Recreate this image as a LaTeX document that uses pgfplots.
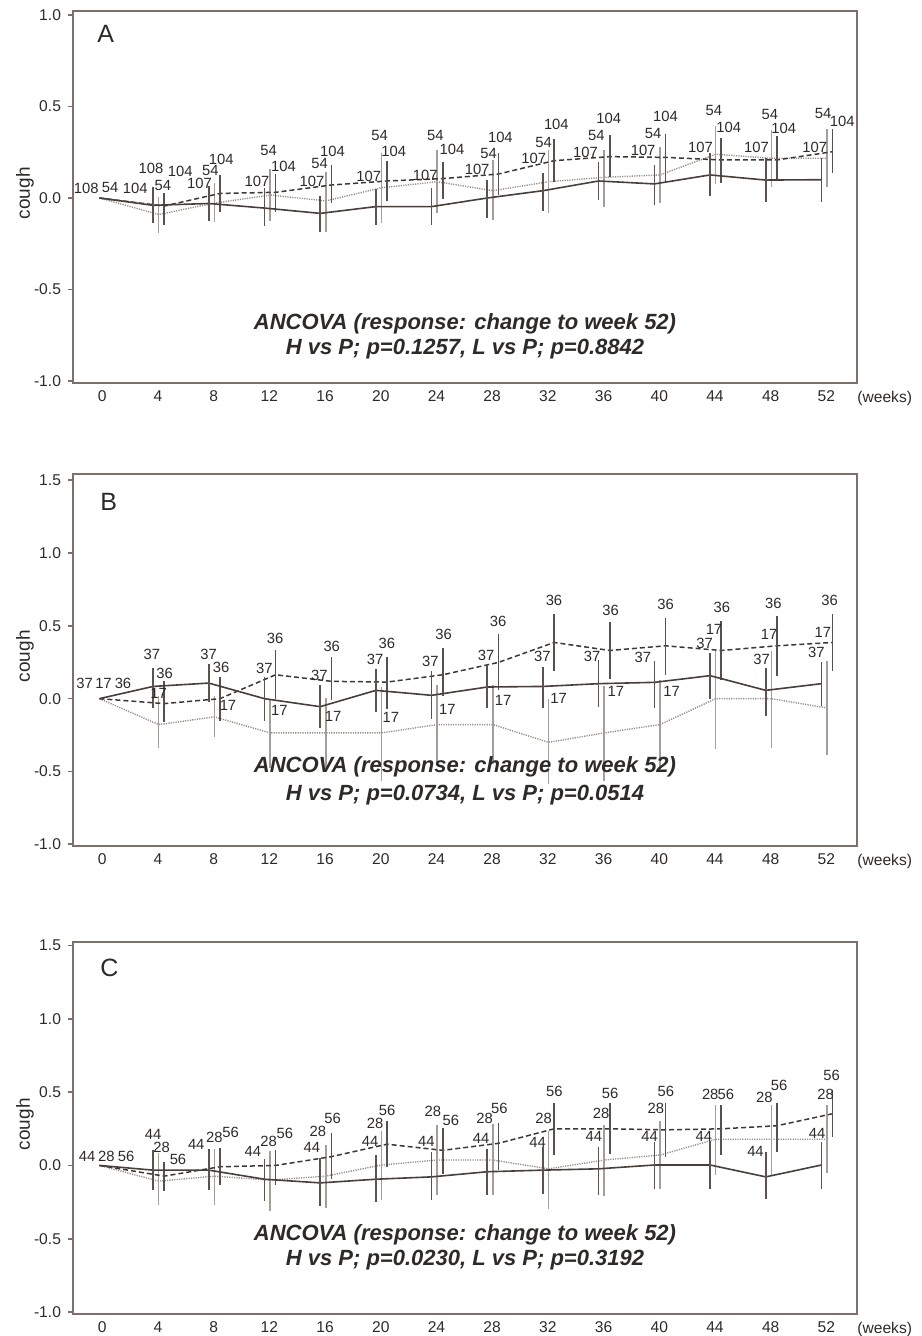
\documentclass[border=0pt]{standalone}
\usepackage{fontspec}
\setmainfont{Liberation Sans}
\usepackage{pgfplots}
\usepackage{pgfplotstable}
\pgfplotsset{compat=1.18}

\definecolor{frame}{RGB}{125,112,106}
\definecolor{txt}{RGB}{45,42,40}
\definecolor{lineP}{RGB}{72,62,58}
\definecolor{lineL}{RGB}{150,142,138}
\definecolor{lineH}{RGB}{62,56,53}
\definecolor{barP}{RGB}{92,82,78}
\definecolor{barL}{RGB}{165,157,152}
\definecolor{barH}{RGB}{88,80,76}

% columns: week, mean, lower end, upper end, n, where the n label sits (lw, lv)
\pgfplotstableread{
w y lo hi n lw lv
0 0 0 0 108 -1.15 0.055
4 -0.04 -0.135 0.06 108 3.50 0.162
8 -0.03 -0.124 0.066 107 6.99 0.080
12 -0.055 -0.153 0.056 107 11.11 0.089
16 -0.084 -0.184 0.011 107 15.06 0.089
20 -0.047 -0.148 0.047 107 19.13 0.116
24 -0.047 -0.148 0.053 107 23.2 0.126
28 0.0 -0.11 0.098 107 26.92 0.157
32 0.04 -0.07 0.138 107 30.98 0.217
36 0.093 -0.011 0.198 107 34.70 0.250
40 0.077 -0.038 0.18 107 38.84 0.262
44 0.126 0.011 0.244 107 42.96 0.275
48 0.098 -0.02 0.217 107 46.98 0.275
52 0.1 -0.02 0.217 107 51.17 0.275
}\aP
\pgfplotstableread{
w y lo hi n lw lv
0 0 0 0 54 0.57 0.055
4 -0.09 -0.19 0.007 54 4.36 0.071
8 -0.028 -0.13 0.08 54 7.76 0.149
12 0.016 -0.124 0.157 54 11.95 0.262
16 -0.016 -0.184 0.144 54 15.61 0.186
20 0.056 -0.135 0.244 54 19.92 0.339
24 0.089 -0.084 0.262 54 23.92 0.339
28 0.04 -0.12 0.207 54 27.75 0.244
32 0.089 -0.08 0.262 54 31.70 0.302
36 0.113 -0.047 0.262 54 35.49 0.339
40 0.126 -0.03 0.28 54 39.56 0.350
44 0.239 0.077 0.393 54 43.92 0.477
48 0.217 0.058 0.372 54 47.94 0.454
52 0.217 0.06 0.375 54 51.77 0.463
}\aL
\pgfplotstableread{
w y lo hi n lw lv
0 0 0 0 104 2.37 0.055
4 -0.044 -0.15 0.03 104 5.60 0.144
8 0.025 -0.075 0.126 104 8.55 0.211
12 0.031 -0.075 0.131 104 13.02 0.171
16 0.071 -0.03 0.18 104 16.54 0.257
20 0.093 -0.015 0.2 104 20.93 0.253
24 0.106 -0.007 0.198 104 25.12 0.266
28 0.131 0.016 0.244 104 28.59 0.330
32 0.204 0.089 0.321 104 32.61 0.404
36 0.226 0.113 0.347 104 36.37 0.436
40 0.222 0.089 0.348 104 40.45 0.448
44 0.208 0.084 0.33 104 44.99 0.386
48 0.208 0.098 0.339 104 48.94 0.381
52 0.253 0.135 0.375 104 53.14 0.417
}\aH
\pgfplotstableread{
w y lo hi n lw lv
0 0 0 0 37 -1.27 0.107
4 0.084 -0.064 0.214 37 3.57 0.301
8 0.107 -0.023 0.238 37 7.64 0.301
12 0.0 -0.155 0.15 37 11.64 0.210
16 -0.055 -0.2 0.091 37 15.59 0.158
20 0.057 -0.094 0.203 37 19.59 0.267
24 0.023 -0.139 0.187 37 23.56 0.256
28 0.08 -0.064 0.233 37 27.56 0.295
32 0.084 -0.064 0.217 37 31.60 0.288
36 0.103 -0.057 0.267 37 35.17 0.288
40 0.112 -0.064 0.26 37 38.82 0.282
44 0.158 0.0 0.317 37 43.25 0.381
48 0.057 -0.116 0.21 37 47.35 0.270
52 0.103 -0.048 0.251 37 51.28 0.317
}\bP
\pgfplotstableread{
w y lo hi n lw lv
0 0 0 0 17 0.09 0.107
4 -0.178 -0.338 0.02 17 4.05 0.039
8 -0.125 -0.265 0.02 17 9.03 -0.048
12 -0.235 -0.475 0.0 17 12.72 -0.082
16 -0.235 -0.481 0.005 17 16.58 -0.121
20 -0.235 -0.566 0.08 17 20.72 -0.126
24 -0.178 -0.452 0.096 17 24.79 -0.075
28 -0.178 -0.45 0.096 17 28.79 -0.011
32 -0.3 -0.589 0.0 17 32.77 0.005
36 -0.235 -0.566 0.084 17 36.89 0.050
40 -0.178 -0.486 0.13 17 40.88 0.052
44 0.0 -0.345 0.33 17 43.93 0.473
48 0.0 -0.34 0.33 17 47.88 0.438
52 -0.064 -0.384 0.26 17 51.75 0.452
}\bL
\pgfplotstableread{
w y lo hi n lw lv
0 0 0 0 36 1.49 0.107
4 -0.034 -0.16 0.12 36 4.48 0.176
8 0.0 -0.155 0.149 36 8.53 0.217
12 0.164 0.0 0.336 36 12.41 0.416
16 0.119 -0.007 0.286 36 16.48 0.358
20 0.114 -0.07 0.286 36 20.44 0.381
24 0.164 0.02 0.347 36 24.51 0.438
28 0.249 0.062 0.445 36 28.42 0.530
32 0.386 0.187 0.582 36 32.44 0.675
36 0.331 0.135 0.525 36 36.50 0.608
40 0.363 0.164 0.553 36 40.46 0.644
44 0.331 0.13 0.53 36 44.50 0.630
48 0.363 0.153 0.568 36 48.20 0.656
52 0.386 0.187 0.582 36 52.24 0.678
}\bH
\pgfplotstableread{
w y lo hi n lw lv
0 0 0 0 44 -1.08 0.06
4 -0.032 -0.169 0.106 44 3.66 0.209
8 -0.032 -0.169 0.113 44 6.75 0.144
12 -0.094 -0.245 0.044 44 10.82 0.094
16 -0.119 -0.277 0.048 44 15.06 0.122
20 -0.094 -0.25 0.071 44 19.24 0.163
24 -0.078 -0.238 0.094 44 23.28 0.163
28 -0.043 -0.2 0.113 44 27.2 0.186
32 -0.032 -0.192 0.129 44 31.27 0.158
36 -0.023 -0.2 0.129 44 35.3 0.197
40 0.003 -0.162 0.163 44 39.3 0.197
44 0.003 -0.162 0.17 44 43.2 0.197
48 -0.078 -0.231 0.094 44 46.91 0.094
52 0.003 -0.162 0.163 44 51.34 0.22
}\cP
\pgfplotstableread{
w y lo hi n lw lv
0 0 0 0 28 0.29 0.06
4 -0.107 -0.272 0.083 28 4.27 0.122
8 -0.073 -0.268 0.113 28 8.05 0.19
12 -0.1 -0.314 0.099 28 11.95 0.163
16 -0.073 -0.29 0.14 28 15.49 0.232
20 0.003 -0.238 0.232 28 19.59 0.289
24 0.037 -0.204 0.278 28 23.74 0.369
28 0.037 -0.2 0.285 28 27.45 0.323
32 -0.023 -0.296 0.232 28 31.7 0.323
36 0.037 -0.208 0.278 28 35.83 0.358
40 0.071 -0.162 0.3 28 39.76 0.392
44 0.179 -0.066 0.415 28 43.66 0.488
48 0.179 -0.066 0.415 28 47.55 0.461
52 0.179 -0.05 0.415 28 51.94 0.488
}\cL
\pgfplotstableread{
w y lo hi n lw lv
0 0 0 0 56 1.72 0.06
4 -0.073 -0.176 0.025 56 5.44 0.044
8 -0.009 -0.135 0.117 56 9.22 0.227
12 0.0 -0.135 0.106 56 13.12 0.22
16 0.06 -0.09 0.22 56 16.55 0.319
20 0.145 -0.009 0.3 56 20.45 0.374
24 0.103 -0.055 0.255 56 25.04 0.305
28 0.151 -0.032 0.289 56 28.51 0.388
32 0.25 0.071 0.426 56 32.47 0.502
36 0.25 0.076 0.426 56 36.47 0.495
40 0.243 0.06 0.426 56 40.47 0.507
44 0.25 0.071 0.415 56 44.79 0.488
48 0.271 0.094 0.426 56 48.61 0.548
52 0.353 0.197 0.518 56 52.37 0.617
}\cH

\newcommand{\labfont}{\fontsize{7.4}{8}\selectfont}

\pgfplotsset{
  panel/.style={
    anchor=north west, scale only axis, width=392pt, height=186pt,
    xmin=-2.1, xmax=54.2,
    xtick={0,4,...,52},
    ytick={-1,-0.5,0,0.5,1,1.5},
    axis line style={frame, line width=1pt},
    tick align=outside, major tick length=2.5pt,
    xtick pos=bottom, ytick pos=left,
    x tick style={draw=none},
    y tick style={frame, line width=0.8pt},
    /pgf/number format/assume math mode=true,
    yticklabel style={/pgf/number format/.cd, fixed, fixed zerofill, precision=1},
    ticklabel style={font=\fontsize{7.8}{9}\selectfont, text=txt},
    xticklabel style={yshift=2pt},
    ylabel={cough},
    every axis y label/.style={at={(axis description cs:-0.0612,0.51)}, rotate=90, anchor=center, font=\fontsize{9.5}{11}\selectfont, text=txt},
    clip=false,
  },
  Pline/.style={lineP, line width=0.8pt, solid, mark=none},
  Lline/.style={lineL, line width=0.7pt, dash pattern=on 0.6pt off 0.6pt, mark=none},
  Hline/.style={lineH, line width=0.75pt, dash pattern=on 2.5pt off 1.5pt, mark=none},
}

% #1 table, #2 x offset, #3 line style, #4 bar colour
\newcommand{\grp}[4]{%
  \addplot[#3, error bars/.cd, y dir=both, y explicit, error mark=none,
    error bar style={#4, line width=0.8pt, solid}]
    table[x expr={ifthenelse(\thisrow{w}==0,-0.2,\thisrow{w}+#2)}, y=y,
      y error plus expr=\thisrow{hi}-\thisrow{y},
      y error minus expr=\thisrow{y}-\thisrow{lo}] {#1};
  \addplot[draw=none, mark=none, nodes near coords, point meta=explicit symbolic,
    nodes near coords style={font=\labfont, text=txt, inner sep=0pt, anchor=center}]
    table[x=lw, y=lv, meta=n] {#1};
}

\newcommand{\ancova}[4]{%
  \node[font=\fontsize{11}{12}\selectfont\bfseries\itshape, text=txt] at (axis description cs:0.5,#1) {ANCOVA (response: change to week 52)};
  \node[font=\fontsize{11}{12}\selectfont\bfseries\itshape, text=txt] at (axis description cs:0.5,#2) {H vs P; p=#3, L vs P; p=#4};
}
\newcommand{\weeks}{%
  \node[anchor=north west, font=\fontsize{7.8}{9}\selectfont, text=txt, inner sep=0pt] at ([yshift=-4pt]axis description cs:1,0) {(weeks)};
}

\begin{document}
\begin{tikzpicture}
% ---------- A ----------
\begin{axis}[panel, at={(0pt,0pt)}, ymin=-1.011, ymax=1.022]
\grp{\aL}{0.05}{Lline}{barL}
\grp{\aH}{0.45}{Hline}{barH}
\grp{\aP}{-0.35}{Pline}{barP}
\node[anchor=west, font=\fontsize{12.5}{14}\selectfont, text=txt] at (axis description cs:0.022,0.938) {A};
\ancova{0.159}{0.091}{0.1257}{0.8842}
\weeks
\end{axis}
% ---------- B ----------
\begin{axis}[panel, at={(0pt,-231.5pt)}, ymin=-1.012, ymax=1.543]
\grp{\bL}{0.05}{Lline}{barL}
\grp{\bH}{0.45}{Hline}{barH}
\grp{\bP}{-0.35}{Pline}{barP}
\node[anchor=west, font=\fontsize{12.5}{14}\selectfont, text=txt] at (axis description cs:0.026,0.925) {B};
\ancova{0.212}{0.137}{0.0734}{0.0514}
\weeks
\end{axis}
% ---------- C ----------
\begin{axis}[panel, at={(0pt,-465.5pt)}, ymin=-1.014, ymax=1.525]
\grp{\cL}{0.05}{Lline}{barL}
\grp{\cH}{0.45}{Hline}{barH}
\grp{\cP}{-0.35}{Pline}{barP}
\node[anchor=west, font=\fontsize{12.5}{14}\selectfont, text=txt] at (axis description cs:0.026,0.93) {C};
\ancova{0.214}{0.144}{0.0230}{0.3192}
\weeks
\end{axis}
\pgfresetboundingbox
\useasboundingbox (-36.5pt,5.5pt) rectangle (424pt,-662.5pt);
\end{tikzpicture}
\end{document}
